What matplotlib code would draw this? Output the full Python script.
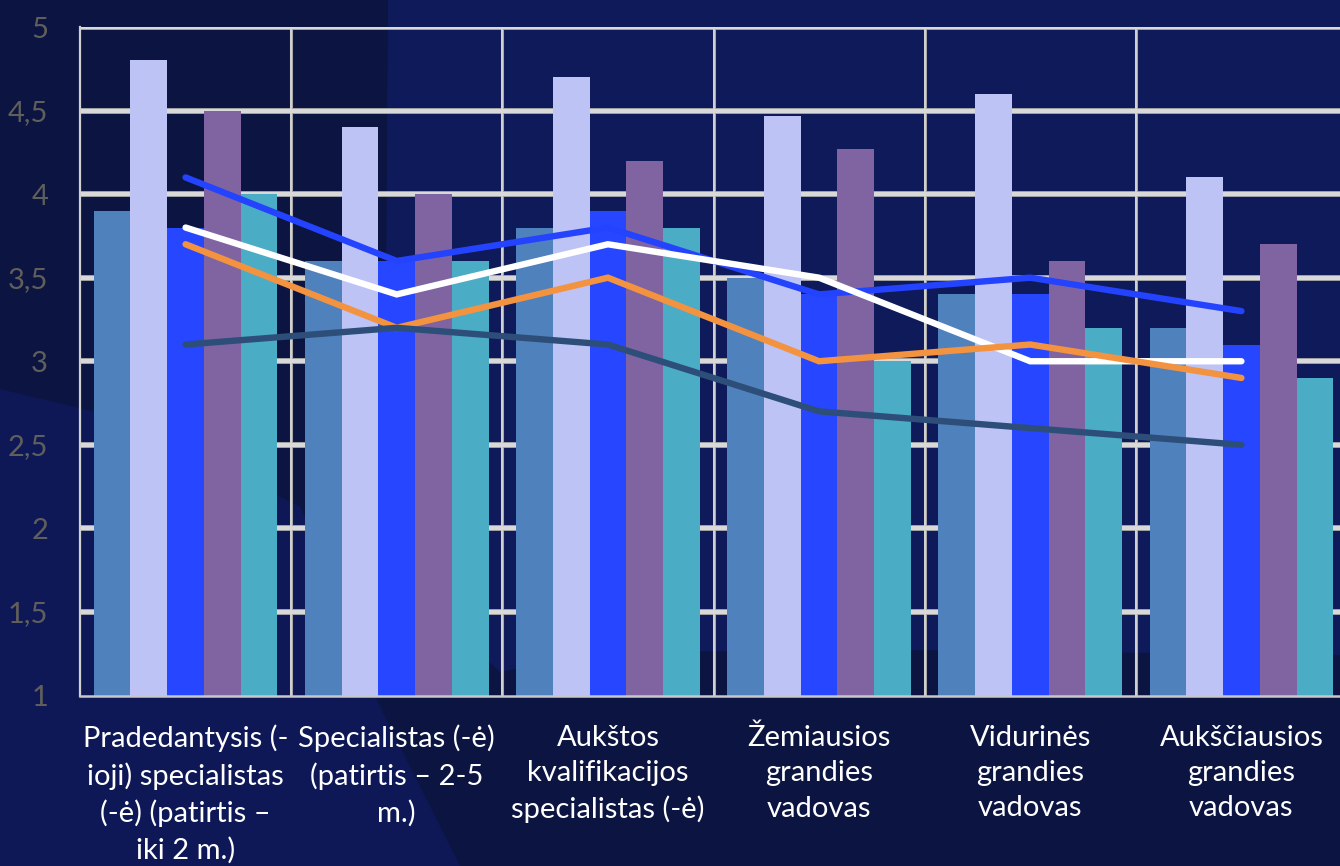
import numpy as np
import matplotlib
matplotlib.use("Agg")
import matplotlib.pyplot as plt
from matplotlib.patches import Polygon

plt.rcParams['font.family'] = ['Lato', 'DejaVu Sans']

categories = [
    "Pradedantysis (-\nioji) specialistas\n(-ė) (patirtis –\niki 2 m.)",
    "Specialistas (-ė)\n(patirtis – 2-5\nm.)",
    "Aukštos\nkvalifikacijos\nspecialistas (-ė)",
    "Žemiausios\ngrandies\nvadovas",
    "Vidurinės\ngrandies\nvadovas",
    "Aukščiausios\ngrandies\nvadovas",
]

# bar series
bar_steel = [3.9, 3.6, 3.8, 3.5, 3.4, 3.2]
bar_lavender = [4.8, 4.4, 4.7, 4.47, 4.6, 4.1]
bar_blue = [3.8, 3.6, 3.9, 3.4, 3.4, 3.1]
bar_purple = [4.5, 4.0, 4.2, 4.27, 3.6, 3.7]
bar_teal = [4.0, 3.6, 3.8, 3.0, 3.2, 2.9]

# line series
line_blue = [4.1, 3.6, 3.8, 3.4, 3.5, 3.3]
line_white = [3.8, 3.4, 3.7, 3.5, 3.0, 3.0]
line_orange = [3.7, 3.2, 3.5, 3.0, 3.1, 2.9]
line_slate = [3.1, 3.2, 3.1, 2.7, 2.6, 2.5]

yticks = [1, 1.5, 2, 2.5, 3, 3.5, 4, 4.5, 5]

W, H = 1340, 866
fig = plt.figure(figsize=(W / 100, H / 100), dpi=100)
fig.patch.set_facecolor('#0c1442')


def px(points):
    return [(x / W, 1 - y / H) for x, y in points]


# background shapes
fig.add_artist(Polygon(px([(388, 0), (1340, 0), (1340, 655), (900, 650),
                           (600, 652), (500, 672), (420, 600), (385, 450)]),
                       closed=True, transform=fig.transFigure,
                       facecolor='#0f1a5a', edgecolor='none', zorder=0))
fig.add_artist(Polygon(px([(0, 389), (100, 413), (200, 455), (300, 507),
                           (345, 600), (373, 693), (460, 866), (0, 866)]),
                       closed=True, transform=fig.transFigure,
                       facecolor='#0e1856', edgecolor='none', zorder=0))

ax = fig.add_axes([80 / W, 1 - 695.5 / H, 1267 / W, 668.5 / H])
ax.set_facecolor('none')

x = np.arange(len(categories))
bw = 0.174
bars = [bar_steel, bar_lavender, bar_blue, bar_purple, bar_teal]
colors = ['#4f81bd', '#bdc3f5', '#2647ff', '#8064a2', '#4bacc6']
for i, (vals, c) in enumerate(zip(bars, colors)):
    ax.bar(x + (i - 2) * bw, np.array(vals) - 1, bw, bottom=1, color=c,
           zorder=3, linewidth=0)

lines = [(line_blue, '#2443ff'), (line_white, '#ffffff'),
         (line_orange, '#f39340'), (line_slate, '#2e4e7a')]
for vals, c in lines:
    ax.plot(x, vals, color=c, lw=4.6, solid_capstyle='round',
            solid_joinstyle='miter', zorder=4)

ax.set_xlim(-0.5, 5.5)
ax.set_ylim(1, 5)

# grid
for yv in yticks[1:]:
    ax.axhline(yv, color='#a6a6a6', lw=4.2, zorder=1)
    ax.axhline(yv, color='#d9d9d9', lw=3.0, zorder=1.1)
for xv in np.arange(0.5, 5.6, 1):
    ax.axvline(xv, color='#a6a6a6', lw=2.2, zorder=1)
    ax.axvline(xv, color='#d9d9d9', lw=1.2, zorder=1.1)

for s in ['top', 'right']:
    ax.spines[s].set_visible(False)
ax.spines['left'].set_color('#d0d0d0')
ax.spines['left'].set_linewidth(1.6)
ax.spines['bottom'].set_color('#c8c8c8')
ax.spines['bottom'].set_linewidth(1.8)
ax.spines['left'].set_zorder(2)
ax.spines['bottom'].set_zorder(5)

ax.set_yticks(yticks)
ax.set_yticklabels([f"{v:g}".replace('.', ',') for v in yticks],
                   color='#615f5b', fontsize=21)
ax.set_xticks(x)
ax.set_xticklabels(categories, color='white', fontsize=21, linespacing=1.44)
ax.tick_params(axis='y', length=0, pad=23)
ax.tick_params(axis='x', length=0, pad=21)

fig.savefig('out.png', dpi=100, facecolor=fig.get_facecolor())
